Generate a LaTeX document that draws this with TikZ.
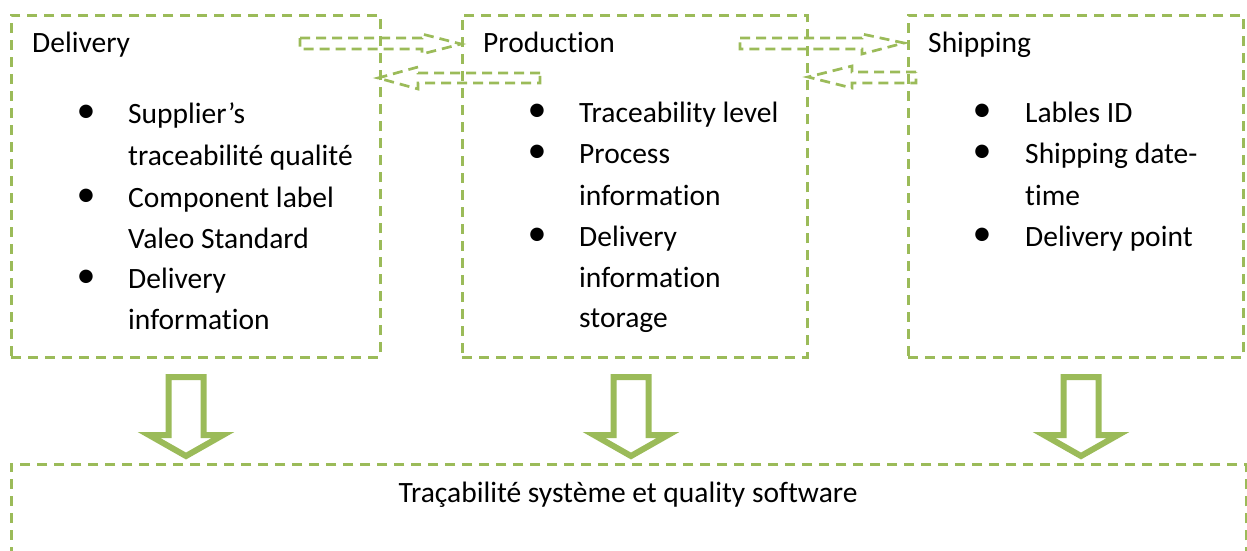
\documentclass[tikz,border=0pt]{standalone}
\usepackage{fontspec}
\setmainfont{Carlito}[Ligatures=NoCommon]
\usetikzlibrary{calc}
\definecolor{og}{HTML}{9BBB59}
\begin{document}
\begin{tikzpicture}[x=1pt,y=-1pt,
  dbox/.style={draw=og, line width=2.5pt, dash pattern=on 10pt off 7pt, inner sep=0, anchor=north west},
  txt/.style={anchor=base west, inner sep=0, font=\fontsize{29.5}{29.5}\selectfont},
  ctxt/.style={anchor=base, inner sep=0, font=\fontsize{29.5}{29.5}\selectfont},
  bul/.style={anchor=base, inner sep=0, font=\fontsize{38}{38}\selectfont},
  darrow/.style={draw=og, line width=2.7pt, dash pattern=on 10pt off 6pt, line join=miter},
  barrow/.style={draw=og, line width=6pt, fill=white, line join=miter}]
\useasboundingbox (0,0) rectangle (1247,550);
\clip (0,0) rectangle (1247,550);
% boxes
\node[dbox, minimum width=369pt, minimum height=342pt] (box1) at (10,14) {};
\node[dbox, minimum width=345pt, minimum height=342pt] (box2) at (461,14) {};
\node[dbox, minimum width=335pt, minimum height=342pt] (box3) at (907,14) {};
\node[dbox, minimum width=1235pt, minimum height=150pt] (box4) at (10,463) {};
% headers
\node[txt] (h1) at (32,52) {Delivery};
\node[txt] (h2) at (483,52) {Production};
\node[txt] (h3) at (928,52) {Shipping};
% box 1 list
\node[bul] (b11) at (86,122) {•};
\node[bul] (b12) at (86,206) {•};
\node[bul] (b13) at (86,287) {•};
\node[txt] (t11) at (128,123) {Supplier’s};
\node[txt] (t12) at (128,165) {traceabilité qualité};
\node[txt] (t13) at (128,207) {Component label};
\node[txt] (t14) at (128,248) {Valeo Standard};
\node[txt] (t15) at (128,288) {Delivery};
\node[txt] (t16) at (128,329) {information};
% box 2 list
\node[bul] (b21) at (537,121) {•};
\node[bul] (b22) at (537,162) {•};
\node[bul] (b23) at (537,245) {•};
\node[txt] (t21) at (579,122) {Traceability level};
\node[txt] (t22) at (579,163) {Process};
\node[txt] (t23) at (579,205) {information};
\node[txt] (t24) at (579,246) {Delivery};
\node[txt] (t25) at (579,287) {information};
\node[txt] (t26) at (579,327) {storage};
% box 3 list
\node[bul] (b31) at (982,121) {•};
\node[bul] (b32) at (982,162) {•};
\node[bul] (b33) at (982,245) {•};
\node[txt] (t31) at (1025,122) {Lables ID};
\node[txt] (t32) at (1025,163) {Shipping date-};
\node[txt] (t33) at (1025,205) {time};
\node[txt] (t34) at (1025,246) {Delivery point};
% bottom text
\node[ctxt] (bt) at (628,502) {Traçabilité système et quality software};
% dashed arrows between boxes
\draw[darrow] (300,38) -- (422,38) -- (422,34) -- (461,44) -- (422,54) -- (422,49) -- (300,49) -- cycle;
\draw[darrow] (540,73) -- (418,73) -- (418,67) -- (378,78) -- (418,89) -- (418,83) -- (540,83) -- cycle;
\draw[darrow] (740,38) -- (862,38) -- (862,34) -- (904,43) -- (862,54) -- (862,49) -- (740,49) -- cycle;
\draw[darrow] (916,72) -- (852,72) -- (852,66) -- (808,77) -- (852,88) -- (852,83) -- (916,83) -- cycle;
% block arrows down
\foreach \n/\cx in {a1/186, a2/631, a3/1081}{
  \coordinate (\n) at (\cx,377);
  \draw[barrow] ([shift={(-17.5,0)}]\n) -- ([shift={(-17.5,58)}]\n) -- ([shift={(-37,58)}]\n)
    -- ([shift={(0,79)}]\n) -- ([shift={(37,58)}]\n) -- ([shift={(17.5,58)}]\n)
    -- ([shift={(17.5,0)}]\n) -- cycle;
}
\end{tikzpicture}
\end{document}
